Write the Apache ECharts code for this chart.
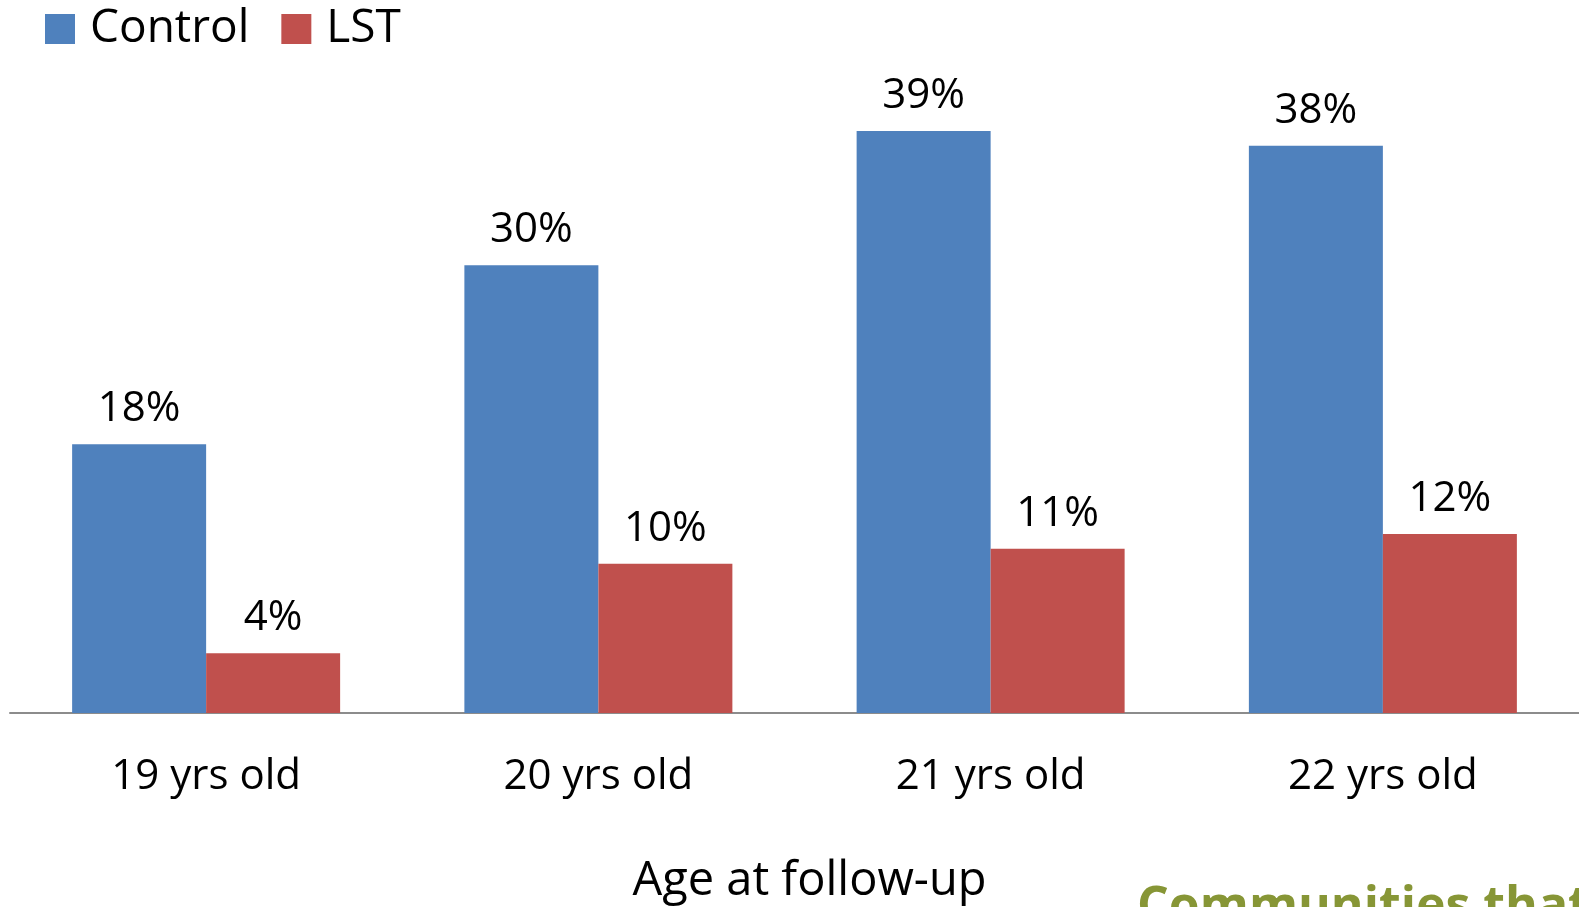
<!DOCTYPE html>
<html>
<head>
<meta charset="utf-8">
<title>Age at follow-up</title>
<script src="https://cdn.jsdelivr.net/npm/echarts@6/dist/echarts.min.js"></script>
<style>
  html, body { margin: 0; padding: 0; background: #ffffff; }
  #chart { width: 1579px; height: 907px; }
</style>
</head>
<body>
<div id="chart"></div>
<script>
// Age groups at follow-up
const categories = ['19 yrs old', '20 yrs old', '21 yrs old', '22 yrs old'];
// Percentages per group
const controlValues = [18, 30, 39, 38];
const lstValues = [4, 10, 11, 12];

const FONT = '"Open Sans", "Noto Sans", sans-serif';

const chart = echarts.init(document.getElementById('chart'), null, { renderer: 'canvas' });

const labelStyle = {
  show: true,
  position: 'top',
  distance: 14,
  formatter: p => p.value + '%',
  color: '#000000',
  fontFamily: FONT,
  fontSize: 42
};

chart.setOption({
  animation: false,
  backgroundColor: '#ffffff',
  legend: {
    left: 45,
    top: 6,
    padding: 0,
    itemWidth: 30,
    itemHeight: 30,
    itemGap: 32,
    icon: 'rect',
    textStyle: { fontFamily: FONT, fontSize: 46, color: '#000000', padding: [0, 0, 0, 10] },
    data: ['Control', 'LST']
  },
  grid: { left: 10, right: 0, top: 116, bottom: 194, outerBoundsMode: 'none' },
  xAxis: {
    type: 'category',
    data: categories,
    name: 'Age at follow-up',
    nameLocation: 'middle',
    nameGap: 145,
    nameTextStyle: { fontFamily: FONT, fontSize: 47, color: '#000000', padding: [0, 0, 0, 30] },
    axisLine: { lineStyle: { color: '#8c8c8c', width: 2 } },
    axisTick: { show: false },
    axisLabel: { fontFamily: FONT, fontSize: 42, color: '#000000', margin: 43 }
  },
  yAxis: {
    type: 'value',
    min: 0,
    max: 40,
    show: false,
    splitLine: { show: false }
  },
  series: [
    {
      name: 'Control',
      type: 'bar',
      data: controlValues,
      barWidth: 134,
      barGap: '0%',
      itemStyle: { color: '#4f81bd' },
      label: labelStyle
    },
    {
      name: 'LST',
      type: 'bar',
      data: lstValues,
      barWidth: 134,
      barGap: '0%',
      itemStyle: { color: '#c0504d' },
      label: labelStyle
    }
  ],
  graphic: [
    {
      type: 'text',
      left: 1137,
      top: 883,
      silent: true,
      style: {
        text: 'Communities that Care',
        fill: '#879636',
        font: 'bold 50px "Open Sans", sans-serif'
      }
    }
  ]
});
</script>
</body>
</html>
